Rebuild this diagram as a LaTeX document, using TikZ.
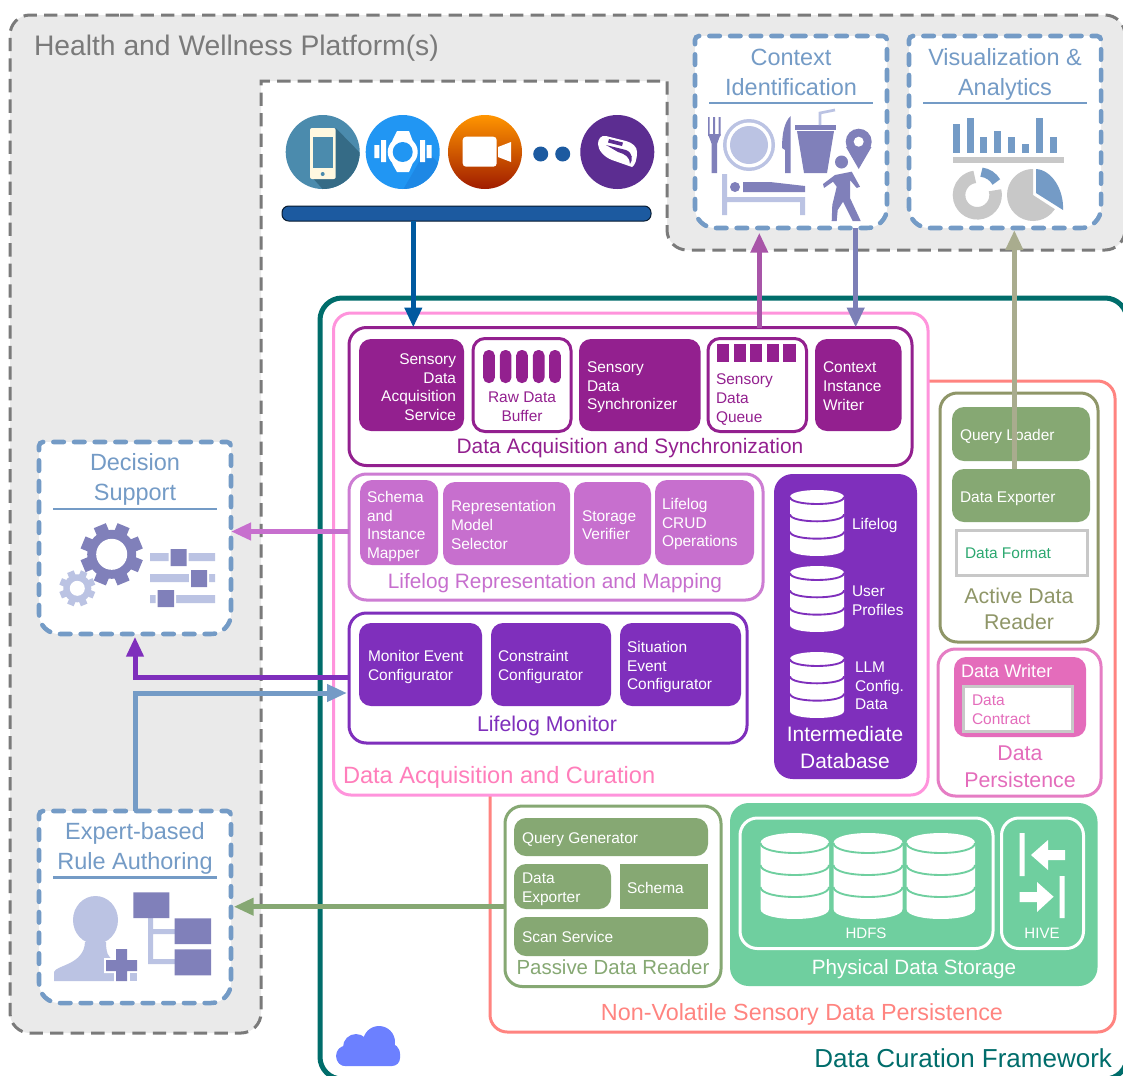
\documentclass[tikz,border=0pt]{standalone}
\usepackage{fontspec}
\setmainfont{Liberation Sans}
\usetikzlibrary{arrows.meta,calc}
\definecolor{platgray}{HTML}{EAEAEA}
\definecolor{dashgray}{HTML}{7A7A7A}
\definecolor{bluedash}{HTML}{749BC6}
\definecolor{frameteal}{HTML}{006D6B}
\definecolor{acqpink}{HTML}{FF94DC}
\definecolor{nvred}{HTML}{FF8480}
\definecolor{dasmag}{HTML}{93208F}
\definecolor{reppurp}{HTML}{C76FCE}
\definecolor{monpurp}{HTML}{7F2FBC}
\definecolor{olive}{HTML}{8F9668}
\definecolor{sage}{HTML}{86A873}
\definecolor{mint}{HTML}{6FCF9F}
\definecolor{persline}{HTML}{E57DC4}
\definecolor{persfill}{HTML}{E46CBB}
\definecolor{icond}{HTML}{8080BA}
\definecolor{iconl}{HTML}{BBC3E3}
\definecolor{bargray}{HTML}{C8C8C8}
\definecolor{barblue}{HTML}{1C5AA0}
\definecolor{arrblue}{HTML}{00599F}
\definecolor{arrmag}{HTML}{A855A8}
\definecolor{arrviolet}{HTML}{7C7FB7}
\definecolor{arrolive}{HTML}{A9AC8E}
\definecolor{cloudblue}{HTML}{6C80FF}
\definecolor{fmtgreen}{HTML}{2CA870}
\definecolor{phoneblue}{HTML}{4B8BAD}
\definecolor{phonedark}{HTML}{356B86}
\definecolor{phonecream}{HTML}{FFF8E0}
\definecolor{watchblue}{HTML}{2196F3}
\definecolor{watchdark}{HTML}{1E88E5}
\definecolor{camtop}{HTML}{FF9500}
\definecolor{cambot}{HTML}{A01C00}
\definecolor{bandpurp}{HTML}{5C2D91}
\tikzset{
  rbox/.style={rectangle,inner sep=0pt,outer sep=0pt},
  frameline/.style={rbox,draw=frameteal,line width=3.75pt,fill=white,rounded corners=16.5pt},
  outlinebox/.style={rbox,draw=#1,line width=2.25pt,fill=white,rounded corners=13pt},
  solidbox/.style={rbox,fill=#1,rounded corners=9pt},
  smallbox/.style={rbox,fill=#1,rounded corners=6pt},
  grayframe/.style={rbox,draw=bargray,line width=2.25pt,fill=white},
  whitebox/.style={rbox,draw=white,line width=2.25pt,rounded corners=13pt},
  dashbody/.style={rbox},
  dashline/.style={draw=bluedash,fill=white,line width=3.4pt,line cap=round,dash pattern=on 7.9pt off 7.6pt},
  platline/.style={draw=dashgray,line width=2.25pt,dash pattern=on 10pt off 5.4pt},
  sm/.style={inner sep=0pt,outer sep=0pt,align=left,font=\fontsize{11.6}{14}\selectfont,text=white},
  lb/.style={inner sep=0pt,outer sep=0pt,align=center,font=\fontsize{16}{20}\selectfont},
  tt/.style={inner sep=0pt,outer sep=0pt,align=center,font=\fontsize{17.6}{22}\selectfont,text=bluedash},
  ruleline/.style={draw=bluedash,line width=1.9pt},
  conn/.style={line width=3.75pt,-{Triangle[length=15pt,width=12.5pt]}}
}
\newcommand{\bx}[6][]{%
  \pgfmathsetmacro\bxcx{(#3+#5)/2}\pgfmathsetmacro\bxcy{(#4+#6)/2}%
  \pgfmathsetmacro\bxw{(#5-#3)*0.75}\pgfmathsetmacro\bxh{(#6-#4)*0.75}%
  \node[#1,minimum width=\bxw pt,minimum height=\bxh pt] (#2) at (\bxcx,\bxcy) {};}
\newcommand{\dbx}[5]{%
  \bx[dashbody]{#1}{#2}{#3}{#4}{#5}
  \path[dashline,rounded corners=3pt] (#1.north) -- (#1.north east) [rounded corners=15pt] -- (#1.south east) -- (#1.south west) [rounded corners=3pt] -- (#1.north west) -- cycle;}
% cylinder: x1 y1 x2 y2 ry background
\newcommand{\cyl}[6]{%
  \pgfmathsetmacro\cylh{(#4-#2-2*#5)/3}%
  \fill[white] (#1,#2+#5) .. controls (#1,#2-0.33*#5) and (#3,#2-0.33*#5) .. (#3,#2+#5) -- (#3,#4-#5) .. controls (#3,#4+0.33*#5) and (#1,#4+0.33*#5) .. (#1,#4-#5) -- cycle;
  \foreach \k in {0,1,2}{
    \draw[#6,line width=1.4pt] (#1,#2+#5+\k*\cylh) .. controls (#1,#2+#5+\k*\cylh+1.33*#5) and (#3,#2+#5+\k*\cylh+1.33*#5) .. (#3,#2+#5+\k*\cylh);}}
% gear: cx cy Router Rbody Rhole halfwidth colour
\newcommand{\gear}[7]{%
  \foreach \a in {0,45,...,315}{\fill[#7,shift={(#1,#2)},rotate=\a+22.5] (-#6,0) rectangle (#6,#3);}
  \fill[#7] (#1,#2) circle[radius=#4];
  \fill[white] (#1,#2) circle[radius=#5];}
\begin{document}
\begin{tikzpicture}[x=0.75pt,y=-0.75pt]
\clip (0,0) rectangle (1123,1075);
\fill[white] (0,0) rectangle (1123,1075);
% platform
\path[platline,fill=platgray,rounded corners=15pt] (100,15) -- (1125,15) -- (1125,250) -- (667,250) [sharp corners] -- (667,81) -- (261,81) [rounded corners=15pt] -- (261,1033) -- (10,1033) -- (10,15) -- cycle;
\node[inner sep=0pt,outer sep=0pt,anchor=west,font=\fontsize{21.2}{25}\selectfont,text=dashgray] (plattitle) at (34,48) {Health and Wellness Platform(s)};
% device icons
\begin{scope}
\clip (322.7,152) circle[radius=37];
\fill[phoneblue] (280,110) rectangle (365,195);
\fill[phonedark] (335.7,128) -- (365,158) -- (365,195) -- (328,195) -- (310,175) -- cycle;
\end{scope}
\fill[phonecream,rounded corners=1.5pt] (310,128) rectangle (335.7,179);
\fill[phoneblue] (313,137) rectangle (333,168);
\fill[phoneblue] (322.7,174) circle[radius=2];
\begin{scope}
\clip (402.7,152) circle[radius=37];
\fill[watchblue] (360,110) rectangle (445,195);
\fill[watchdark] (426,150) -- (445,170) -- (445,195) -- (400,195) -- cycle;
\end{scope}
\fill[white] (397,131) -- (409,131) -- (412,139) -- (417,152) -- (412,165) -- (409,172) -- (397,172) -- (393,165) -- (388,152) -- (393,139) -- cycle;
\fill[white] (402.7,152) circle[radius=15];
\fill[watchblue] (402.7,152) circle[radius=10];
\fill[white] (374.3,145) rectangle (379.3,158) (381.2,140) rectangle (386.2,162) (420,140) rectangle (425,162) (426.7,145) rectangle (431.7,158);
\shade[top color=camtop,bottom color=cambot] (485,152) circle[radius=37];
\fill[white,rounded corners=2.5pt] (462.7,136.7) rectangle (496.7,166.7);
\fill[white] (498,147) -- (511,142) -- (511,162) -- (498,157) -- cycle;
\fill[barblue] (540.7,154) circle[radius=7.5] (562.7,154) circle[radius=7.5];
\fill[bandpurp] (617.3,152) circle[radius=37];
\fill[white] (598,144) .. controls (598,139) and (601,135) .. (606,136) -- (626,141) .. controls (633,143) and (637,147) .. (637,152) .. controls (637,160) and (635,165) .. (632,167) -- (612,160) .. controls (604,157) and (598,150) .. (598,144) -- cycle;
\fill[bandpurp] (606,145) -- (626,150) .. controls (633,153) and (633,160) .. (630,164) .. controls (630,157) and (625,154) .. (618,152) -- cycle;
\fill[bandpurp] (609,139) -- (623,142.5) -- (622,146) -- (608,142.5) -- cycle;
\bx[rbox,fill=barblue,draw=black!70!barblue,line width=.75pt,rounded corners=5pt]{bar}{282}{206}{651}{221}
% framework
\bx[frameline]{framework}{320}{298}{1127}{1079}
\node[inner sep=0pt,outer sep=0pt,anchor=east,font=\fontsize{19.5}{24}\selectfont,text=frameteal] (frametitle) at (1112,1058) {Data Curation Framework};
\fill[cloudblue,rounded corners=6pt] (337,1046) rectangle (400,1066);
\fill[cloudblue] (379,1042) circle[radius=16] (356,1047) circle[radius=13] (389,1054) circle[radius=11] (346,1056) circle[radius=10];
% non-volatile
\bx[outlinebox=nvred]{nonvol}{490}{381}{1115}{1032}
\node[lb,text=nvred,font=\fontsize{17.5}{20}\selectfont] (nonvoltitle) at (802,1014) {Non-Volatile Sensory Data Persistence};
% acquisition
\bx[outlinebox=acqpink]{acq}{333.5}{313}{928}{795}
\node[lb,anchor=west,text=acqpink!85!red,font=\fontsize{17.7}{20}\selectfont] (acqtitle) at (343,777) {Data Acquisition and Curation};
% DAS
\bx[outlinebox=dasmag]{das}{349}{327.5}{912}{465.5}
\bx[solidbox=dasmag]{sdas}{359}{339}{464}{431}
\node[sm,anchor=east,align=right] (sdast) at (456,387) {Sensory\\Data\\Acquisition\\Service};
\bx[outlinebox=dasmag,rounded corners=9pt]{raw}{473}{338.5}{571}{431.5}
\foreach \cx in {489,505.6,522,538.7,555}{\fill[dasmag,rounded corners=4pt] (\cx-5.8,350) rectangle (\cx+5.8,383);}
\node[sm,text=dasmag,align=center] (rawt) at (522,406.5) {Raw Data\\Buffer};
\bx[solidbox=dasmag]{sds}{579}{339}{700.5}{431}
\node[sm,anchor=west] (sdst) at (587,387.5) {Sensory\\Data\\Synchronizer};
\bx[outlinebox=dasmag,rounded corners=9pt]{queue}{708}{338.5}{806.5}{431.5}
\foreach \cx in {723,739.7,756,773,789.4}{\fill[dasmag] (\cx-6.2,344) rectangle (\cx+6.2,362);}
\node[sm,anchor=west,text=dasmag] (queuet) at (716,399.5) {Sensory\\Data\\Queue};
\bx[solidbox=dasmag]{ciw}{815}{339}{901.5}{431}
\node[sm,anchor=west] (ciwt) at (823,386) {Context\\Instance\\Writer};
\node[lb,text=dasmag,font=\fontsize{15.7}{20}\selectfont] (dast) at (630,448) {Data Acquisition and Synchronization};
% lifelog rep
\bx[outlinebox=reppurp!90!white]{rep}{349}{474}{763}{600}
\bx[solidbox=reppurp]{sim}{360}{480}{438}{565}
\node[sm,anchor=west] (simt) at (367,526.5) {Schema\\and\\Instance\\Mapper};
\bx[solidbox=reppurp]{rms}{443}{482}{570}{565}
\node[sm,anchor=west] (rmst) at (451,525) {Representation\\Model\\Selector};
\bx[solidbox=reppurp]{sv}{574}{482}{651}{565}
\node[sm,anchor=west] (svt) at (582,525) {Storage\\Verifier};
\bx[solidbox=reppurp]{crud}{655}{480}{754}{565}
\node[sm,anchor=west] (crudt) at (662,524) {Lifelog\\CRUD\\Operations};
\node[lb,text=reppurp,font=\fontsize{15.6}{20}\selectfont] (rept) at (555,583) {Lifelog Representation and Mapping};
% monitor
\bx[outlinebox=monpurp]{mon}{349}{613}{747}{743}
\bx[solidbox=monpurp]{mec}{359}{623}{482}{706}
\node[sm,anchor=west] (mect) at (368,667) {Monitor Event\\Configurator};
\bx[solidbox=monpurp]{cc}{491}{623}{611}{706}
\node[sm,anchor=west] (cct) at (498,667) {Constraint\\Configurator};
\bx[solidbox=monpurp]{sec}{620}{623}{741}{706}
\node[sm,anchor=west] (sect) at (627,667) {Situation\\Event\\Configurator};
\node[lb,text=monpurp] (mont) at (547,726) {Lifelog Monitor};
% intermediate db
\bx[rbox,fill=monpurp,rounded corners=14pt]{idb}{774}{474}{917}{779}
\cyl{790}{490}{844}{556}{7}{monpurp}
\cyl{790}{566}{844}{632}{7}{monpurp}
\cyl{790}{652}{844}{718}{7}{monpurp}
\node[sm,anchor=west] (idb1) at (852,525) {Lifelog};
\node[sm,anchor=west] (idb2) at (852,600.5) {User\\Profiles};
\node[sm,anchor=west] (idb3) at (855,686) {LLM\\Config.\\Data};
\node[lb,text=white,font=\fontsize{15.7}{20}\selectfont] (idbt) at (845,747.5) {Intermediate\\Database};
% active reader
\bx[outlinebox=olive]{active}{940}{393}{1098}{642}
\bx[solidbox=sage]{ql}{952}{407}{1090}{461}
\node[sm,anchor=west] (qlt) at (960,436) {Query Loader};
\bx[solidbox=sage]{de}{952}{469}{1090}{522}
\node[sm,anchor=west] (det) at (960,499) {Data Exporter};
\bx[grayframe]{fmt}{956}{530}{1087}{575.5}
\node[sm,anchor=west,text=fmtgreen] (fmtt) at (965,553) {Data Format};
\node[lb,text=olive] (activet) at (1019,609) {Active Data\\Reader};
% data persistence
\bx[outlinebox=persline]{pers}{938}{649}{1101}{796}
\bx[solidbox=persfill]{writer}{954}{657}{1086}{737}
\node[sm,anchor=west,font=\fontsize{13.6}{16}\selectfont] (writert) at (961,671) {Data Writer};
\bx[grayframe]{contract}{963}{686}{1072}{731}
\node[sm,anchor=west,text=persfill] (contractt) at (972,709.5) {Data\\Contract};
\node[lb,text=persfill] (perst) at (1020,766.5) {Data\\Persistence};
% passive reader
\bx[outlinebox=sage]{passive}{505}{806}{721}{986.5}
\bx[solidbox=sage]{qg}{514}{818}{708}{856}
\node[sm,anchor=west] (qgt) at (522,840) {Query Generator};
\bx[solidbox=sage]{pde}{514}{864}{611}{909}
\node[sm,anchor=west] (pdet) at (522,889.5) {Data\\Exporter};
\bx[rbox,fill=sage]{schema}{619.5}{864}{708}{909}
\node[sm,anchor=west] (schemat) at (627,888) {Schema};
\bx[solidbox=sage]{scan}{514}{917}{708}{956}
\node[sm,anchor=west] (scant) at (522,937) {Scan Service};
\node[lb,text=sage,font=\fontsize{15.3}{20}\selectfont] (passivet) at (613,967) {Passive Data Reader};
% physical storage
\bx[rbox,fill=mint,rounded corners=14pt]{phys}{730}{803}{1097.5}{986}
\bx[whitebox]{hdfs}{740}{818}{993}{948.5}
\bx[whitebox]{hive}{1001.5}{818}{1083.5}{948.5}
\cyl{760.5}{833}{829}{919}{10}{mint}
\cyl{833.5}{833}{902.5}{919}{10}{mint}
\cyl{906.5}{833}{975}{919}{10}{mint}
\node[sm,align=center,font=\fontsize{11.3}{14}\selectfont] (hdfst) at (866,933) {HDFS};
\node[sm,align=center,font=\fontsize{11.3}{14}\selectfont] (hivet) at (1042,933) {HIVE};
\fill[white] (1019.5,833) rectangle (1024.5,876) (1059.5,876) rectangle (1064.5,918);
\fill[white] (1031,855) -- (1048,840) -- (1048,850) -- (1065,850) -- (1065,860) -- (1048,860) -- (1048,870) -- cycle;
\fill[white] (1053.6,896.7) -- (1037,882) -- (1037,892) -- (1019.7,892) -- (1019.7,902) -- (1037,902) -- (1037,912) -- cycle;
\node[lb,text=white,font=\fontsize{15.5}{20}\selectfont] (physt) at (914,969) {Physical Data Storage};
% context identification
\dbx{ctx}{695}{36}{887}{228}
\node[tt] (ctxt) at (791,72.5) {Context\\Identification};
\draw[ruleline] (709,103) -- (873,103);
\fill[icond] (708,117) rectangle (709.7,136) (713.2,117) rectangle (715.2,136) (718.7,117) rectangle (720.7,136);
\fill[icond] (708,134) -- (720.7,134) -- (717,144) -- (717,173) -- (711.7,173) -- (711.7,144) -- cycle;
\fill[iconl] (749,145) circle[radius=26];
\fill[white] (749,145) circle[radius=22.5];
\fill[iconl] (749,145) circle[radius=19];
\fill[icond] (790.7,116) .. controls (784,122) and (782,135) .. (782,148) -- (785,150) -- (785,173) -- (790.7,173) -- cycle;
\fill[icond] (795,125) rectangle (836,130);
\fill[icond] (797,131) -- (834,131) -- (827,173) -- (804,173) -- cycle;
\draw[iconl,line width=2pt] (820,125) -- (820,113) -- (835,110);
\fill[icond] (846,147) -- (858.7,169) -- (871.5,147) -- cycle;
\fill[icond] (858.7,141.7) circle[radius=13];
\fill[white] (858.7,141.7) circle[radius=5];
\fill[iconl] (722,174) rectangle (727,215) (722,197) rectangle (805,202) (800,197) rectangle (805,215);
\fill[icond] (735,187) circle[radius=5];
\fill[icond] (743,182) -- (770,182) -- (805,186) -- (805,192) -- (743,192) -- cycle;
\fill[icond] (841.5,162) circle[radius=6.5];
\fill[icond] (823,184) -- (835,175) -- (851.7,171.7) -- (860,186.7) -- (856.7,188) -- (850,180) -- (850,198) -- (860.7,221) -- (852.7,221) -- (843,201.7) -- (837.7,210) -- (836.7,221) -- (831.7,221) -- (832.3,205) -- (836.7,186.7) -- (833,181.7) -- (824,188) -- cycle;
% visualization
\dbx{vis}{909}{36}{1101}{228}
\node[tt] (vist) at (1005,74.5) {Visualization \&\\Analytics};
\draw[ruleline] (923,103) -- (1087,103);
\foreach \bxa/\bty in {953/124,966.7/117.7,980.3/137.3,994.3/130.7,1008/137.3,1022/144,1035.7/117.7,1049.7/137.3}{\fill[bluedash] (\bxa,\bty) rectangle (\bxa+7,153.3);}
\fill[bargray] (953,156.7) rectangle (1064,162.7);
\draw[bargray,line width=9.4pt] (977.3,195) ++(-15:18.3) arc[start angle=-15,end angle=262,radius=18.3];
\draw[bluedash,line width=7pt] (979,192) ++(-83:20) arc[start angle=-83,end angle=-30,radius=20];
\fill[bargray] (1033,195) -- ++(33:26) arc[start angle=33,end angle=270,radius=26] -- cycle;
\fill[bluedash] (1036,193) -- (1036,169) .. controls (1052,170) and (1064,190) .. (1063,210) -- cycle;
% decision support
\dbx{dec}{39}{442}{231}{634}
\node[tt] (dect) at (135,479.5) {Decision\\Support};
\draw[ruleline] (53,509) -- (217,509);
\gear{111.7}{554.3}{31}{24.5}{15.5}{6.5}{icond}
\gear{77.3}{588.3}{18}{14}{7.5}{3.5}{iconl}
\fill[iconl] (150,553) rectangle (215,561) (150,574) rectangle (215,582) (150,595) rectangle (215,603);
\fill[white] (168.7,548) rectangle (188.7,567) (189,569) rectangle (209,588) (155.7,589) rectangle (176,608);
\fill[icond] (170.7,549) rectangle (186.7,566) (191,570) rectangle (207,587) (157.7,590) rectangle (174,607);
% expert
\dbx{exp}{39}{811}{231}{1003}
\node[tt] (expt) at (135,848.5) {Expert-based\\Rule Authoring};
\draw[ruleline] (53,877.7) -- (217,877.7);
\fill[iconl] (95.5,920) ellipse[x radius=22.5,y radius=24];
\fill[iconl] (54,981) -- (54,972) .. controls (56,965) and (84,965) .. (85,942) -- (106,942) .. controls (106,952) and (108,958) .. (114,960) -- (114,981) -- cycle;
\fill[white] (104,958) rectangle (139,973) (114,947) rectangle (129,983);
\fill[icond] (116,949) rectangle (127,981) (106,960) rectangle (137,971);
\fill[iconl] (130,973) rectangle (137,981);
\fill[iconl] (148,918) rectangle (153,964) (148,929) rectangle (176,934) (148,959) rectangle (176,964);
\fill[icond] (133.3,892.3) rectangle (169.3,918) (174.7,918.3) rectangle (211,944) (174.7,949.3) rectangle (211,975.3);
% connectors
\coordinate (xdown) at (413.3,0);
\coordinate (xup) at (759.3,0);
\coordinate (xback) at (855.7,0);
\coordinate (xexport) at (1014.3,0);
\coordinate (yrep) at (0,531.5);
\coordinate (ymon) at (0,677.7);
\coordinate (yrule) at (0,693);
\coordinate (yread) at (0,906.7);
\draw[conn,arrblue] (bar.south -| xdown) -- (das.north -| xdown);
\draw[conn,arrmag,shorten >=3.5pt] (das.north -| xup) -- (ctx.south -| xup);
\draw[conn,arrviolet] (ctx.south -| xback) -- (das.north -| xback);
\draw[conn,arrolive,shorten >=1.5pt] (de.north -| xexport) -- (vis.south -| xexport);
\draw[conn,reppurp] (rep.west |- yrep) -- (dec.east |- yrep);
\draw[conn,monpurp,shorten >=2pt] (mon.west |- ymon) -| (dec.south);
\draw[conn,bluedash,shorten >=1.5pt] (exp.north) |- (mon.west |- yrule);
\draw[conn,sage,shorten >=2pt] (passive.west |- yread) -- (exp.east |- yread);
\end{tikzpicture}
\end{document}
